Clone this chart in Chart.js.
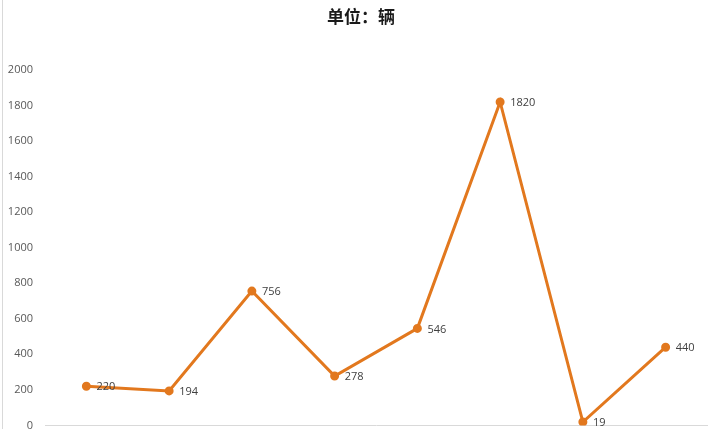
<!DOCTYPE html>
<html>
<head>
<meta charset="utf-8">
<script src="https://cdn.jsdelivr.net/npm/chart.js@4"></script>
<style>
html,body{margin:0;padding:0;background:#fff}
#box{position:relative;width:721px;height:429px;overflow:hidden}
#box:before{content:"";position:absolute;left:2px;top:0;bottom:0;border-left:1px solid #d9d9d9;z-index:1}
</style>
</head>
<body>
<div id="box"><canvas id="chart" width="721" height="444"></canvas></div>
<script>
// 数据
const cats=["1","2","3","4","5","6","7","8"]
const vals=[220,194,756,278,546,1820,19,440]
const yTicks=[0,200,400,600,800,1000,1200,1400,1600,1800,2000]
const subTitle="单位：辆"

const lineColor="#E2781E"

// 数据标签 + 标题
const labelPlugin={
id:"labels",
afterDatasetsDraw(c){
const ctx=c.ctx
const meta=c.getDatasetMeta(0)
ctx.save()
ctx.font="11px 'Open Sans', 'DejaVu Sans', sans-serif"
ctx.fillStyle="#404040"
ctx.textBaseline="middle"
ctx.textAlign="left"
meta.data.forEach(function(p,i){
ctx.fillText(String(vals[i]),p.x+10,p.y+1)
})
ctx.font="bold 17px 'Noto Sans CJK SC', sans-serif"
ctx.fillStyle="#1a1a1a"
ctx.textAlign="center"
ctx.fillText(subTitle,361,17)
ctx.restore()
}
}

new Chart(document.getElementById("chart"),{
type:"line",
data:{
labels:cats,
datasets:[{
data:vals,
borderColor:lineColor,
backgroundColor:lineColor,
borderWidth:3,
pointRadius:3,
pointHoverRadius:3,
tension:0
}]
},
options:{
responsive:false,
animation:false,
layout:{padding:{top:70,right:14,bottom:3,left:0}},
plugins:{legend:{display:false},tooltip:{enabled:false},title:{display:false}},
scales:{
x:{
offset:true,
grid:{display:false,drawTicks:false},
border:{display:true,color:"#d9d9d9",width:1},
ticks:{display:false}
},
y:{
min:0,max:2000,
afterBuildTicks(ax){ax.ticks=yTicks.map(v=>({value:v}))},
afterFit(ax){ax.width=45},
grid:{display:false,drawTicks:false},
border:{display:false},
ticks:{
padding:12,
color:"#595959",
font:{size:11,family:"'Open Sans', 'DejaVu Sans', sans-serif"},
callback:v=>String(v)
}
}
}
},
plugins:[labelPlugin]
})
</script>
</body>
</html>
